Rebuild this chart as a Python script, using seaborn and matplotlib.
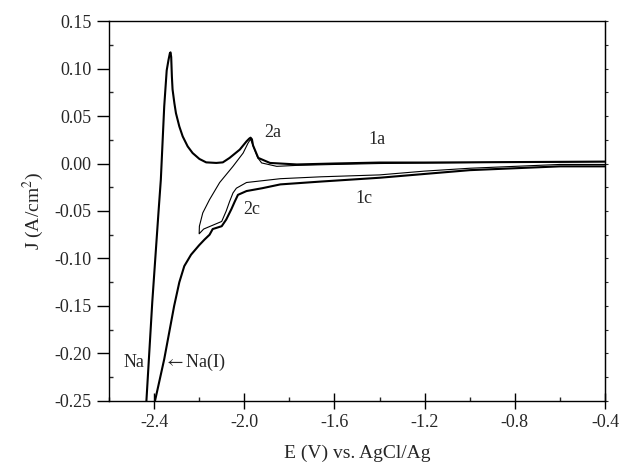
import numpy as np
import matplotlib
matplotlib.use("Agg")
import matplotlib.pyplot as plt
from matplotlib.ticker import MultipleLocator
import seaborn as sns

# Curve 1 (thin): scan reversed at -2.2 V
e1_cat = [-0.40, -0.60, -0.80, -1.00, -1.20, -1.40, -1.66, -1.84, -1.99, -2.035,
          -2.05, -2.065, -2.08, -2.10, -2.14, -2.18, -2.20]
j1_cat = [-0.001, -0.001, -0.003, -0.005, -0.008, -0.012, -0.014, -0.016, -0.020, -0.026,
          -0.031, -0.040, -0.050, -0.061, -0.065, -0.069, -0.074]
e1_an = [-2.20, -2.199, -2.184, -2.154, -2.109, -2.05, -2.005, -1.983, -1.972, -1.958,
         -1.94, -1.923, -1.856, -1.77, -1.60, -1.40, -1.00, -0.40]
j1_an = [-0.074, -0.066, -0.052, -0.038, -0.020, -0.003, 0.011, 0.0216, 0.0256, 0.017,
         0.006, 0.0006, -0.003, -0.002, -0.001, 0.000, 0.001, 0.002]

# Curve 2 (thick): scan reversed beyond -2.4 V
e2_cat = [-0.40, -0.60, -0.80, -1.00, -1.20, -1.40, -1.66, -1.84, -1.92, -1.99,
          -2.028, -2.042, -2.057, -2.08, -2.10, -2.14, -2.154, -2.176, -2.20, -2.236,
          -2.266, -2.288, -2.311, -2.333, -2.355, -2.381, -2.396, -2.40]
j2_cat = [-0.003, -0.003, -0.005, -0.007, -0.011, -0.015, -0.019, -0.022, -0.026, -0.029,
          -0.033, -0.040, -0.048, -0.059, -0.066, -0.069, -0.075, -0.080, -0.086, -0.096,
          -0.108, -0.125, -0.150, -0.178, -0.206, -0.234, -0.250, -0.256]
e2_an = [-2.436, -2.434, -2.408, -2.38, -2.37, -2.355, -2.344, -2.336, -2.330, -2.327,
         -2.324, -2.321, -2.318, -2.31, -2.303, -2.288, -2.273, -2.251, -2.229, -2.199,
         -2.169, -2.124, -2.095, -2.065, -2.02, -1.99, -1.978, -1.972, -1.966, -1.961,
         -1.938, -1.886, -1.767, -1.60, -1.40, -1.20, -0.80, -0.40]
j2_an = [-0.256, -0.250, -0.146, -0.050, -0.017, 0.060, 0.098, 0.109, 0.116, 0.117,
         0.112, 0.0915, 0.078, 0.0636, 0.053, 0.039, 0.0285, 0.018, 0.011, 0.0048,
         0.0012, 0.0006, 0.0012, 0.0059, 0.0146, 0.0233, 0.0262, 0.0272, 0.0255, 0.019,
         0.0059, 0.0006, -0.001, 0.000, 0.001, 0.001, 0.0015, 0.002]

# Peak labels
labels = ["2a", "1a", "1c", "2c", "Na", "$\\leftarrow$Na(I)"]
label_e = [-1.873, -1.412, -1.47, -1.966, -2.489, -2.217]
label_j = [0.0324, 0.025, -0.037, -0.048, -0.209, -0.209]

sns.set_style("ticks")
plt.rcParams["font.family"] = ["Liberation Serif", "DejaVu Serif"]
plt.rcParams["mathtext.fontset"] = "stix"
plt.rcParams["axes.unicode_minus"] = False

fig = plt.figure(figsize=(6.22, 4.68), dpi=100)
ax = fig.add_axes([0.1752, 0.1432, 0.7975, 0.8119])

sns.lineplot(x=e1_cat + e1_an, y=j1_cat + j1_an, sort=False, estimator=None,
             color="black", lw=0.8, ax=ax)
sns.lineplot(x=e2_cat + e2_an, y=j2_cat + j2_an, sort=False, estimator=None,
             color="black", lw=1.5, ax=ax)

for t, x, y in zip(labels, label_e, label_j):
    ax.text(x, y, t, ha="center", va="center", fontsize=13)

ax.set_xlim(-2.6, -0.4)
ax.set_ylim(-0.25, 0.15)
ax.xaxis.set_minor_locator(MultipleLocator(0.2))
ax.yaxis.set_major_locator(MultipleLocator(0.05))
ax.yaxis.set_minor_locator(MultipleLocator(0.025))
ax.set_xticks(np.arange(-2.4, -0.39, 0.4))
ax.set_xticklabels(["-2.4", "-2.0", "-1.6", "-1.2", "-0.8", "-0.4"])
ax.yaxis.set_major_formatter(plt.FormatStrFormatter("%.2f"))

ax.tick_params(axis="both", which="major", labelsize=13, color="black", width=1)
ax.tick_params(axis="x", which="major", direction="inout", length=12)
ax.tick_params(axis="y", which="major", direction="out", length=9)
ax.tick_params(axis="both", which="minor", direction="in", length=3, width=1)

sec = ax.secondary_yaxis("right")
sec.yaxis.set_major_locator(MultipleLocator(0.025))
sec.tick_params(direction="out", length=2, labelright=False)

for s in ax.spines.values():
    s.set_visible(True)
    s.set_color("black")
    s.set_linewidth(1)

ax.set_xlabel("E (V) vs. AgCl/Ag", fontsize=14, labelpad=10)
ax.set_ylabel("J (A/cm$^2$)", fontsize=14, labelpad=6)

fig.savefig("out.png", dpi=100)
